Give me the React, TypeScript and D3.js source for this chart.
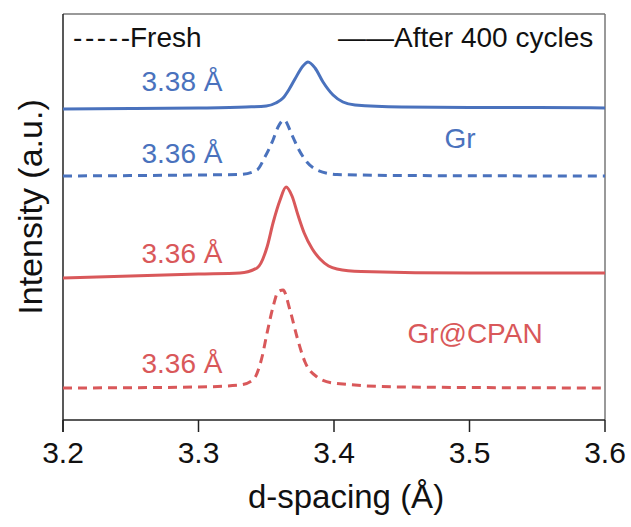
import React from "react";
import * as d3 from "d3";

// x ticks
const xTicks = [3.2, 3.3, 3.4, 3.5, 3.6];

// Curves: [d-spacing (Å), intensity (a.u., offset-stacked)]
const grAfter: [number, number][] = [
  [3.2, 311], [3.25, 311.5], [3.3, 312], [3.335, 313], [3.35, 314], [3.357, 317],
  [3.3624, 322], [3.367, 331], [3.3712, 341], [3.3771, 354], [3.3808, 358], [3.386, 352],
  [3.3919, 338], [3.3993, 325], [3.4066, 318], [3.4155, 315], [3.45, 313], [3.5, 312.5],
  [3.55, 312.5], [3.6, 312],
];
const grFresh: [number, number][] = [
  [3.2, 244], [3.3, 245], [3.3306, 245.5], [3.3432, 250], [3.349, 263], [3.355, 280],
  [3.3587, 293], [3.3631, 300], [3.369, 285], [3.3734, 272], [3.38, 258],
  [3.3874, 250], [3.4022, 245.5], [3.45, 244.5], [3.6, 244],
];
const cpanAfter: [number, number][] = [
  [3.2, 142], [3.25, 144], [3.3, 146], [3.3306, 147], [3.3432, 152], [3.3506, 173],
  [3.355, 197], [3.3602, 220], [3.3646, 233], [3.369, 224], [3.3734, 205],
  [3.378, 187], [3.384, 171], [3.3897, 161], [3.396, 154], [3.4022, 151], [3.42, 148.5],
  [3.5, 147], [3.6, 147],
];
const cpanFresh: [number, number][] = [
  [3.2, 32], [3.3, 33], [3.3306, 35], [3.3402, 40], [3.3469, 63], [3.3506, 87],
  [3.355, 113], [3.3587, 128], [3.3624, 130], [3.3675, 110], [3.3727, 83],
  [3.3786, 58], [3.3875, 43], [3.3993, 37], [3.45, 33], [3.6, 32],
];

const BLUE = "#4a72bd";
const RED = "#d9585a";
const FONT = "'Liberation Sans', Arial, Helvetica, sans-serif";

export default function App() {
  const W = 631, H = 527;
  const left = 63, right = 605, top = 14, bottom = 420;
  const x = d3.scaleLinear().domain([3.2, 3.6]).range([left, right]);
  const y = d3.scaleLinear().domain([0, 406]).range([bottom, top]);
  const line = d3
    .line<[number, number]>()
    .x((d) => x(d[0]))
    .y((d) => y(d[1]))
    .curve(d3.curveMonotoneX);

  const series = [
    { data: grAfter, color: BLUE, dash: undefined },
    { data: grFresh, color: BLUE, dash: "9,6" },
    { data: cpanAfter, color: RED, dash: undefined },
    { data: cpanFresh, color: RED, dash: "9,6" },
  ];

  return (
    <svg
      width={W}
      height={H}
      style={{ position: "absolute", left: 0, top: 0, background: "#fff" }}
      fontFamily={FONT}
    >
      {/* frame */}
      <line x1={left} x2={right} y1={top} y2={top} stroke="#777" strokeWidth={1.5} />
      <line x1={right} x2={right} y1={top} y2={bottom} stroke="#777" strokeWidth={1.5} />
      <line x1={left} x2={left} y1={top} y2={bottom + 12} stroke="#222" strokeWidth={1.5} />
      <line x1={left} x2={right} y1={bottom} y2={bottom} stroke="#222" strokeWidth={1.5} />
      {xTicks.map((t) => (
        <g key={t}>
          <line x1={x(t)} x2={x(t)} y1={bottom} y2={bottom + 12} stroke="#222" strokeWidth={1.5} />
          <text x={x(t)} y={463} textAnchor="middle" fontSize={30} fill="#111">
            {t.toFixed(1)}
          </text>
        </g>
      ))}

      {series.map((s, i) => (
        <path
          key={i}
          d={line(s.data) || ""}
          fill="none"
          stroke={s.color}
          strokeWidth={3}
          strokeDasharray={s.dash}
        />
      ))}

      {/* annotations */}
      <text x={182} y={91} textAnchor="middle" fontSize={28} fill={BLUE}>3.38 Å</text>
      <text x={182} y={163} textAnchor="middle" fontSize={28} fill={BLUE}>3.36 Å</text>
      <text x={460} y={148} textAnchor="middle" fontSize={28} fill={BLUE}>Gr</text>
      <text x={182} y={263} textAnchor="middle" fontSize={28} fill={RED}>3.36 Å</text>
      <text x={182} y={373} textAnchor="middle" fontSize={28} fill={RED}>3.36 Å</text>
      <text x={475} y={343} textAnchor="middle" fontSize={28} fill={RED}>Gr@CPAN</text>

      {/* legend */}
      <text x={73} y={47} fontSize={28} fill="#111" textLength={57} lengthAdjust="spacing">-----</text>
      <text x={130} y={47} fontSize={28} fill="#111">Fresh</text>
      <text x={338} y={47} fontSize={28} fill="#111">——After 400 cycles</text>

      {/* axis titles */}
      <text x={346} y={508} textAnchor="middle" fontSize={33} fill="#111">d-spacing (Å)</text>
      <text
        transform={`translate(42,207) rotate(-90)`}
        textAnchor="middle"
        fontSize={34}
        fill="#111"
      >
        Intensity (a.u.)
      </text>
    </svg>
  );
}
